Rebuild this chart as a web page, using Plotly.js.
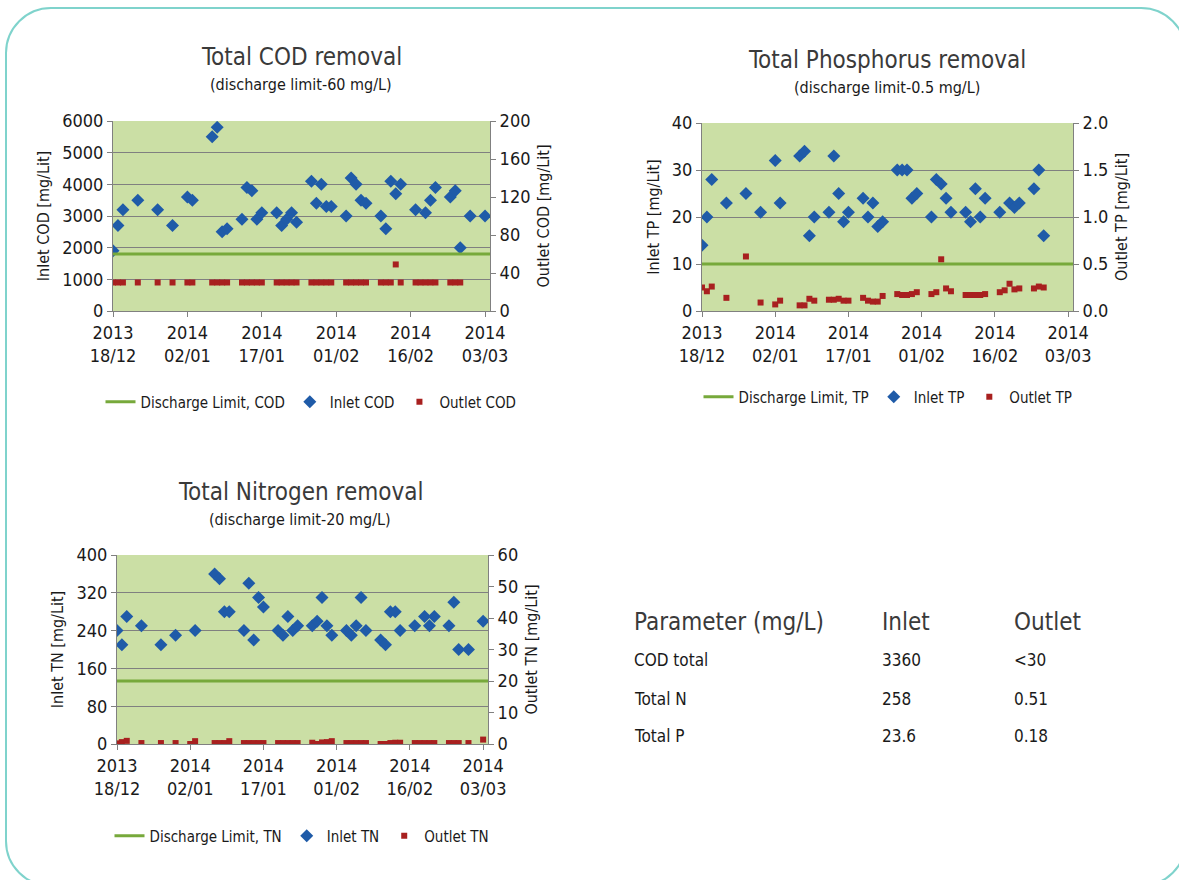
<!DOCTYPE html>
<html>
<head>
<meta charset="utf-8">
<script src="https://cdn.plot.ly/plotly-3.0.1.min.js"></script>
<style>
  html, body { margin: 0; padding: 0; width: 1179px; height: 880px; overflow: hidden; background: #ffffff; }
  #frame { position: absolute; left: 5px; top: 7px; width: 1182px; height: 880px; box-sizing: border-box;
           border: 2px solid #7fd3cc; border-radius: 46px; }
  #chart { position: absolute; left: 0; top: 0; width: 1179px; height: 880px; }
</style>
</head>
<body>
<div id="frame"></div>
<div id="chart"></div>
<script>
// ---------------- DATA ----------------
const sampleDates = ["2013-12-18","2013-12-19","2013-12-20","2013-12-23","2013-12-27","2013-12-30",
  "2014-01-02","2014-01-03","2014-01-07","2014-01-08","2014-01-09","2014-01-10",
  "2014-01-13","2014-01-14","2014-01-15","2014-01-16","2014-01-17",
  "2014-01-20","2014-01-21","2014-01-22","2014-01-23","2014-01-24",
  "2014-01-27","2014-01-28","2014-01-29","2014-01-30","2014-01-31",
  "2014-02-03","2014-02-04","2014-02-05","2014-02-06","2014-02-07",
  "2014-02-10","2014-02-11","2014-02-12","2014-02-13","2014-02-14",
  "2014-02-17","2014-02-18","2014-02-19","2014-02-20","2014-02-21",
  "2014-02-24","2014-02-25","2014-02-26","2014-02-28","2014-03-03"];

const codInlet = [1900,2700,3200,3500,3200,2700,3600,3500,5500,5800,2500,2600,2900,3900,3800,2900,3100,
  3100,2700,2900,3100,2800,4100,3400,4000,3300,3300,3000,4200,4000,3500,3400,3000,2600,4100,3700,4000,
  3200,null,3100,3500,3900,3600,3800,2000,3000,3000];
const codOutlet = [30,30,30,30,30,30,30,30,30,30,30,30,30,30,30,30,30,30,30,30,30,30,30,30,30,30,30,
  30,30,30,30,30,30,30,30,49,30,30,30,30,30,30,30,30,30,null,null];

const tpInlet = [14,20,28,23,25,21,32,23,33,34,16,20,21,33,25,19,21,24,20,23,18,19,30,30,30,24,25,
  20,28,27,24,21,21,19,26,20,24,21,null,23,22,23,26,30,16,null,null];
const tpOutlet = [0.25,0.21,0.26,0.14,0.58,0.09,0.07,0.11,0.06,0.06,0.13,0.11,0.12,0.12,0.13,0.11,0.11,
  0.14,0.11,0.10,0.10,0.16,0.18,0.17,0.17,0.18,0.20,0.18,0.20,0.55,0.24,0.21,0.17,0.17,0.17,0.17,0.18,
  0.20,0.22,0.29,0.23,0.24,0.24,0.26,0.25,null,null];

const tnInlet = [240,210,270,250,210,230,null,240,360,350,280,280,240,340,220,310,290,240,230,270,240,250,
  250,260,310,250,230,240,230,250,310,240,220,210,280,280,240,250,null,270,250,270,250,300,200,200,260];
const tnOutlet = [0.2,0.6,1.0,0.3,0.3,0.3,0.0,0.9,0.3,0.3,0.3,0.9,0.3,0.3,0.3,0.3,0.3,0.3,0.3,0.3,0.3,0.3,
  0.4,0.0,0.5,0.6,0.9,0.3,0.3,0.3,0.3,0.3,0.0,0.0,0.3,0.4,0.4,0.3,0.3,0.3,0.3,0.3,0.3,0.3,0.3,0.3,1.4];

const limitCOD = 60;   // mg/L (outlet axis)
const limitTP = 0.5;
const limitTN = 20;

const dateRange = ["2013-12-18", "2014-03-04"];
const tickDates = ["2013-12-18","2014-01-02","2014-01-17","2014-02-01","2014-02-16","2014-03-03"];
const tickLabels = ["2013<br>18/12","2014<br>02/01","2014<br>17/01","2014<br>01/02","2014<br>16/02","2014<br>03/03"];

const tableHeader = ["Parameter (mg/L)", "Inlet", "Outlet"];
const tableParams = ["COD total", "Total N", "Total P"];
const tableInlet = ["3360", "258", "23.6"];
const tableOutlet = ["<30", "0.51", "0.18"];

// ---------------- STYLE ----------------
const FONT = "'Liberation Sans Narrow', 'DejaVu Sans Condensed', 'Arial Narrow', sans-serif";
const GREEN = "#77a93b", BLUE = "#1f5ba8", RED = "#a8201f", GRID = "#808080";
const W = 1179, H = 880;
const px = v => v / W, py = v => 1 - v / H;

function limitTrace(val, name, xa, ya, leg) {
  return { x: dateRange, y: [val, val], type: "scatter", mode: "lines", name: name,
    line: { color: GREEN, width: 3 }, xaxis: xa, yaxis: ya, legend: leg, hoverinfo: "skip" };
}
function inletTrace(vals, name, xa, ya, leg) {
  return { x: sampleDates, y: vals, type: "scatter", mode: "markers", name: name,
    marker: { symbol: "diamond", size: 10, color: BLUE }, xaxis: xa, yaxis: ya, legend: leg };
}
function outletTrace(vals, name, xa, ya, leg) {
  return { x: sampleDates, y: vals, type: "scatter", mode: "markers", name: name,
    marker: { symbol: "square", size: 6, color: RED }, xaxis: xa, yaxis: ya, legend: leg };
}

const data = [
  limitTrace(limitCOD, "Discharge Limit, COD", "x", "y2", "legend"),
  inletTrace(codInlet, "Inlet COD", "x", "y", "legend"),
  outletTrace(codOutlet, "Outlet COD", "x", "y2", "legend"),
  limitTrace(limitTP, "Discharge Limit, TP", "x2", "y4", "legend2"),
  inletTrace(tpInlet, "Inlet TP", "x2", "y3", "legend2"),
  outletTrace(tpOutlet, "Outlet TP", "x2", "y4", "legend2"),
  limitTrace(limitTN, "Discharge Limit, TN", "x3", "y6", "legend3"),
  inletTrace(tnInlet, "Inlet TN", "x3", "y5", "legend3"),
  outletTrace(tnOutlet, "Outlet TN", "x3", "y6", "legend3")
];

const tickFont = { family: FONT, size: 18, color: "#1a1a1a" };
const titleFont = { family: FONT, size: 16, color: "#1a1a1a" };

function xAxis(domain, anchor) {
  return { domain: domain, anchor: anchor, type: "date", range: dateRange,
    tickmode: "array", tickvals: tickDates, ticktext: tickLabels,
    ticks: "outside", ticklen: 5, tickcolor: GRID, showgrid: false, zeroline: false,
    showline: true, linecolor: GRID, linewidth: 1, tickfont: tickFont, fixedrange: true };
}
function yLeft(domain, anchor, range, dtick, title) {
  return { domain: domain, anchor: anchor, range: range, dtick: dtick, tick0: 0,
    ticks: "outside", ticklen: 5, tickcolor: GRID, showgrid: true, gridcolor: GRID, gridwidth: 1,
    zeroline: false, showline: true, linecolor: GRID, tickfont: tickFont,
    title: { text: title, font: titleFont, standoff: 8 }, fixedrange: true };
}
function yRight(overlay, anchor, range, dtick, title, fmt) {
  return { overlaying: overlay, anchor: anchor, side: "right", range: range, dtick: dtick, tick0: 0,
    tickformat: fmt || "", ticks: "outside", ticklen: 5, tickcolor: GRID, showgrid: false,
    zeroline: false, showline: true, linecolor: GRID, tickfont: tickFont,
    title: { text: title, font: titleFont, standoff: 8 }, fixedrange: true };
}

const codX = [px(113), px(490)], codY = [py(311), py(121)];
const tpX = [px(702), px(1073)], tpY = [py(311), py(123)];
const tnX = [px(117), px(488)], tnY = [py(744), py(555)];

const legendBase = { orientation: "h", xanchor: "center", yanchor: "middle",
  font: { family: FONT, size: 15, color: "#1a1a1a" }, bgcolor: "rgba(0,0,0,0)", itemwidth: 30 };

const annotations = [];
function ann(text, x, y, size, color, xanchor) {
  annotations.push({ text: text, xref: "paper", yref: "paper", x: px(x), y: py(y),
    xanchor: xanchor || "center", yanchor: "middle", showarrow: false,
    font: { family: FONT, size: size, color: color || "#3a3a3a" } });
}
ann("Total COD removal", 301, 57, 24);
ann("(discharge limit-60 mg/L)", 301, 85, 16, "#1a1a1a");
ann("Total Phosphorus removal", 887, 60, 24);
ann("(discharge limit-0.5 mg/L)", 887, 87, 16, "#1a1a1a");
ann("Total Nitrogen removal", 300, 492, 24);
ann("(discharge limit-20 mg/L)", 300, 519, 16, "#1a1a1a");

// table
const colX = [632, 880, 1012];
tableHeader.forEach((h, j) => ann(h, colX[j], 622, 24, "#3a3a3a", "left"));
const rowY = [660, 699, 736];
tableParams.forEach((p, i) => {
  ann(p, colX[0], rowY[i], 17, "#1a1a1a", "left");
  ann(tableInlet[i], colX[1], rowY[i], 17, "#1a1a1a", "left");
  ann(tableOutlet[i], colX[2], rowY[i], 17, "#1a1a1a", "left");
});

const layout = {
  width: W, height: H, margin: { l: 0, r: 0, t: 0, b: 0 },
  paper_bgcolor: "rgba(0,0,0,0)", plot_bgcolor: "#cbdfa5",
  font: { family: FONT, color: "#1a1a1a" },
  showlegend: true,
  xaxis: xAxis(codX, "y"),
  yaxis: yLeft(codY, "x", [0, 6000], 1000, "Inlet COD [mg/Lit]"),
  yaxis2: yRight("y", "x", [0, 200], 40, "Outlet COD [mg/Lit]"),
  xaxis2: xAxis(tpX, "y3"),
  yaxis3: yLeft(tpY, "x2", [0, 40], 10, "Inlet TP [mg/Lit]"),
  yaxis4: yRight("y3", "x2", [0, 2], 0.5, "Outlet TP [mg/Lit]", ".1f"),
  xaxis3: xAxis(tnX, "y5"),
  yaxis5: yLeft(tnY, "x3", [0, 400], 80, "Inlet TN [mg/Lit]"),
  yaxis6: yRight("y5", "x3", [0, 60], 10, "Outlet TN [mg/Lit]"),
  legend: Object.assign({}, legendBase, { x: px(311), y: py(402) }),
  legend2: Object.assign({}, legendBase, { x: px(888), y: py(397) }),
  legend3: Object.assign({}, legendBase, { x: px(302), y: py(836) }),
  annotations: annotations
};

Plotly.newPlot("chart", data, layout, { displayModeBar: false, staticPlot: true });
</script>
</body>
</html>
